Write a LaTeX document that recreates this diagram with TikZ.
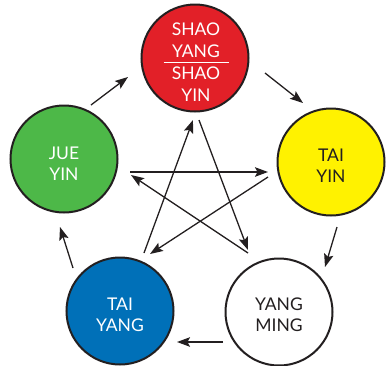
\documentclass[tikz,border=0pt]{standalone}
\usepackage{fontspec}
\setmainfont{Lato}
\usetikzlibrary{arrows.meta,calc}
\definecolor{cred}{RGB}{226,32,40}
\definecolor{cyellow}{RGB}{255,242,0}
\definecolor{cgreen}{RGB}{77,184,72}
\definecolor{cblue}{RGB}{0,112,184}
\definecolor{cdark}{RGB}{35,31,32}
\begin{document}
\begin{tikzpicture}[x=1pt,y=-1pt,
  disc/.style={circle,draw=cdark,line width=2pt,minimum size=107pt,inner sep=0pt},
  lbl/.style={align=center,font=\fontsize{17.5}{21.5}\selectfont,inner sep=0pt},
  arr/.style={draw=cdark,line width=1.3pt,-{Stealth[length=13pt,width=9.5pt,inset=2.5pt]}}]
\useasboundingbox (0,0) rectangle (386,365);
\node[disc,fill=cred]    (red)    at (195,58)  {};
\node[disc,fill=cyellow] (yellow) at (331,162) {};
\node[disc,fill=cgreen]  (green)  at (64,159)  {};
\node[disc,fill=cblue]   (blue)   at (120,311) {};
\node[disc,fill=white]   (white)  at (279,312) {};
\node[lbl,text=white] (redtxt) at (196,62)
  {SHAO\\YANG\\[-16pt]\textcolor{white}{\rule{65pt}{1pt}}\\[-4.5pt]SHAO\\YIN};
\node[lbl,text=cdark] (yellowtxt) at (331,165.5) {TAI\\YIN};
\node[lbl,text=white] (greentxt)  at (64,163.5)  {JUE\\YIN};
\node[lbl,text=white] (bluetxt)   at (120,315)   {TAI\\YANG};
\node[lbl,text=cdark] (whitetxt)  at (279,314.5) {YANG\\MING};
% outer cycle
\draw[arr] ($(green)+(27,-54)$) -- ($(red)+(-67,19)$);
\draw[arr] ($(red)+(70,15)$) -- ($(yellow)+(-28,-59)$);
\draw[arr] ($(yellow)+(6,65)$) -- ($(white)+(46,-45)$);
\draw[arr] ($(white)+(-56,30)$) -- ($(blue)+(57,31)$);
\draw[arr] ($(blue)+(-47,-43)$) -- ($(green)+(-4,68)$);
% star
\draw[arr] ($(green)+(66,13)$) -- ($(yellow)+(-63,10)$);
\draw[arr] ($(yellow)+(-63,15)$) -- ($(blue)+(30,-57)$);
\draw[arr] ($(blue)+(24,-58)$) -- ($(red)+(-2,62)$);
\draw[arr] ($(red)+(4,62)$) -- ($(white)+(-31,-62)$);
\draw[arr] ($(white)+(-31,-59)$) -- ($(green)+(67,16)$);
\end{tikzpicture}
\end{document}
